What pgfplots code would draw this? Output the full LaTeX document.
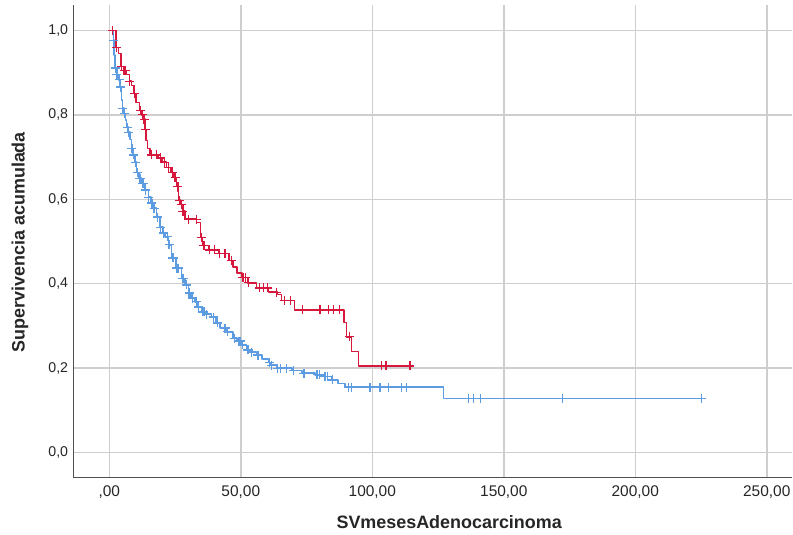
\documentclass[border=0pt]{standalone}
\usepackage{pgfplots}
\pgfplotsset{compat=1.18}
\usepackage{fontspec}
\setmainfont{Liberation Sans}
\definecolor{kmred}{RGB}{214,24,60}
\definecolor{kmblue}{RGB}{94,156,226}
\definecolor{gridc}{RGB}{206,206,206}
\definecolor{axc}{RGB}{80,80,80}
\begin{document}
\begin{tikzpicture}
\path[use as bounding box] (-73.3bp,-57.5bp) rectangle (719.7bp,477.5bp);
\begin{axis}[
  at={(0,0)}, anchor=south west, scale only axis,
  width=718.7bp, height=472.5bp,
  xmin=-13.7, xmax=259.6, ymin=-0.0592, ymax=1.0604,
  axis x line*=bottom, axis y line*=left,
  axis line style={axc, line width=1.3bp},
  xtick={0,50,100,150,200,250}, ytick={0,0.2,0.4,0.6,0.8,1},
  xticklabels={{,00},{50,00},{100,00},{150,00},{200,00},{250,00}},
  yticklabels={{0,0},{0,2},{0,4},{0,6},{0,8},{1,0}},
  major tick length=0pt,
  grid=major, major grid style={gridc, line width=1.5bp},
  tick label style={text=black!85, inner sep=0pt},
  x tick label style={font=\fontsize{15.5}{17}\selectfont, anchor=center, yshift=-14.5bp},
  y tick label style={font=\fontsize{14.2}{16}\selectfont, anchor=east, xshift=-5bp},
  xlabel={SVmesesAdenocarcinoma},
  ylabel={Supervivencia acumulada},
  label style={font=\bfseries\fontsize{18}{20}\selectfont, text=black!85, inner sep=0pt},
  x label style={at={(axis description cs:0.523,0)}, anchor=center, yshift=-44.5bp},
  y label style={at={(axis description cs:0,0.498)}, anchor=center, yshift=53.3bp},
  clip=false,
]
% blue group: step curve
\addplot[const plot, kmblue, line width=1.4bp, line join=round, line cap=round] coordinates {
(1.3,1.0) (1.5,0.977) (1.8,0.942) (2.2,0.911) (2.9,0.895) (3.4,0.883) (4.1,0.866)
(4.6,0.835) (5.1,0.816) (5.6,0.804) (6.2,0.788) (6.6,0.771) (7.2,0.759) (7.9,0.741)
(8.5,0.721) (9.0,0.705) (9.8,0.688) (10.4,0.664) (11.3,0.650) (12.3,0.638) (13.6,0.622)
(14.8,0.605) (15.9,0.591) (16.7,0.579) (18.0,0.558) (19.3,0.534) (20.4,0.520) (21.2,0.511)
(22.4,0.492) (23.7,0.461) (25.4,0.437) (27.5,0.413) (28.8,0.397) (30.0,0.378) (31.1,0.366)
(32.6,0.357) (33.7,0.345) (35.1,0.333) (36.4,0.328) (38.9,0.321) (40.6,0.307) (42.1,0.295)
(44.6,0.286) (47.0,0.271) (48.6,0.264) (50.3,0.255) (52.2,0.243) (53.5,0.238) (56.0,0.231)
(58.1,0.222) (60.5,0.214) (61.5,0.207) (63.6,0.200) (69.4,0.195) (73.2,0.188) (78.2,0.184)
(81.4,0.180) (84.6,0.172) (87.0,0.164) (89.6,0.155) (127.0,0.128) (226.5,0.128)
};
% blue censored
\addplot[only marks, mark=+, mark size=4.5bp, kmblue, line width=1.2bp] coordinates {
(1.5,0.977) (2.2,0.911) (2.9,0.895) (3.8,0.883) (4.3,0.866) (5.1,0.816) (5.7,0.804)
(6.8,0.771) (7.3,0.759) (8.6,0.721) (9.3,0.705) (10.0,0.688) (10.7,0.664) (11.5,0.650)
(12.0,0.650) (12.6,0.638) (13.0,0.638) (13.9,0.622) (15.0,0.605) (16.2,0.591) (17.0,0.579)
(18.3,0.558) (19.5,0.534) (20.6,0.520) (22.0,0.511) (22.7,0.492) (24.0,0.461) (24.5,0.461)
(25.7,0.437) (26.2,0.437) (27.8,0.413) (28.2,0.413) (29.2,0.397) (30.3,0.378) (31.5,0.366)
(33.0,0.357) (34.0,0.345) (35.5,0.333) (36.0,0.333) (37.0,0.328) (39.5,0.321) (41.0,0.307)
(44.0,0.295) (45.0,0.286) (47.5,0.271) (49.0,0.264) (49.7,0.264) (50.5,0.255) (52.5,0.243)
(53.0,0.243) (54.0,0.238) (56.5,0.231) (60.8,0.214) (61.8,0.207) (64.0,0.200) (65.0,0.200)
(67.5,0.200) (70.0,0.195) (74.0,0.188) (79.0,0.184) (80.0,0.184) (82.0,0.180) (83.0,0.180)
(85.0,0.172) (90.9,0.155) (92.2,0.155) (99.1,0.155) (102.9,0.155) (106.1,0.155) (111.2,0.155)
(113.1,0.155) (136.5,0.128) (138.4,0.128) (141.0,0.128) (172.2,0.128) (225.2,0.128)
};
% red group: step curve
\addplot[const plot, kmred, line width=1.4bp, line join=round, line cap=round] coordinates {
(1.2,1.0) (2.5,0.96) (3.5,0.945) (4.5,0.915) (5.5,0.905) (6.5,0.895) (7.6,0.88) (8.5,0.87)
(9.4,0.85) (10.2,0.83) (11.4,0.81) (12.3,0.80) (12.9,0.79) (13.5,0.765) (14.0,0.74)
(14.6,0.72) (15.5,0.705) (18.5,0.698) (20.0,0.688) (21.8,0.676) (23.5,0.664) (24.5,0.652)
(25.5,0.63) (26.0,0.62) (26.3,0.598) (27.0,0.587) (28.0,0.572) (28.8,0.553) (33.2,0.545)
(34.6,0.51) (35.5,0.49) (37.7,0.48) (41.5,0.472) (45.5,0.455) (47.0,0.44) (48.5,0.425)
(50.5,0.414) (52.5,0.402) (56.0,0.39) (60.5,0.38) (64.0,0.375) (65.5,0.36) (70.5,0.338)
(89.3,0.308) (90.2,0.274) (92.2,0.24) (94.7,0.205) (115.5,0.205)
};
% red censored
\addplot[only marks, mark=+, mark size=4.5bp, kmred, line width=1.2bp] coordinates {
(1.2,1.0) (2.8,0.96) (4.6,0.915) (5.6,0.905) (6.3,0.905) (7.8,0.88) (9.6,0.85) (11.8,0.81)
(12.6,0.80) (13.2,0.79) (13.8,0.765) (16.0,0.705) (18.0,0.705) (19.5,0.698) (21.0,0.688)
(22.5,0.676) (24.0,0.664) (25.0,0.652) (26.1,0.63) (26.8,0.598) (27.3,0.587) (28.0,0.572)
(30.0,0.553) (33.0,0.553) (35.0,0.51) (36.0,0.49) (38.0,0.48) (40.0,0.48) (42.0,0.472)
(44.0,0.472) (46.5,0.455) (50.5,0.414) (51.0,0.414) (51.8,0.414) (53.0,0.402) (57.0,0.39)
(58.5,0.39) (60.0,0.39) (63.5,0.38) (66.5,0.36) (69.0,0.36) (73.5,0.338) (80.1,0.338)
(83.3,0.338) (85.2,0.338) (87.5,0.338) (91.3,0.274) (103.6,0.205) (105.2,0.205) (114.3,0.205)
};
\end{axis}
\end{tikzpicture}
\end{document}
